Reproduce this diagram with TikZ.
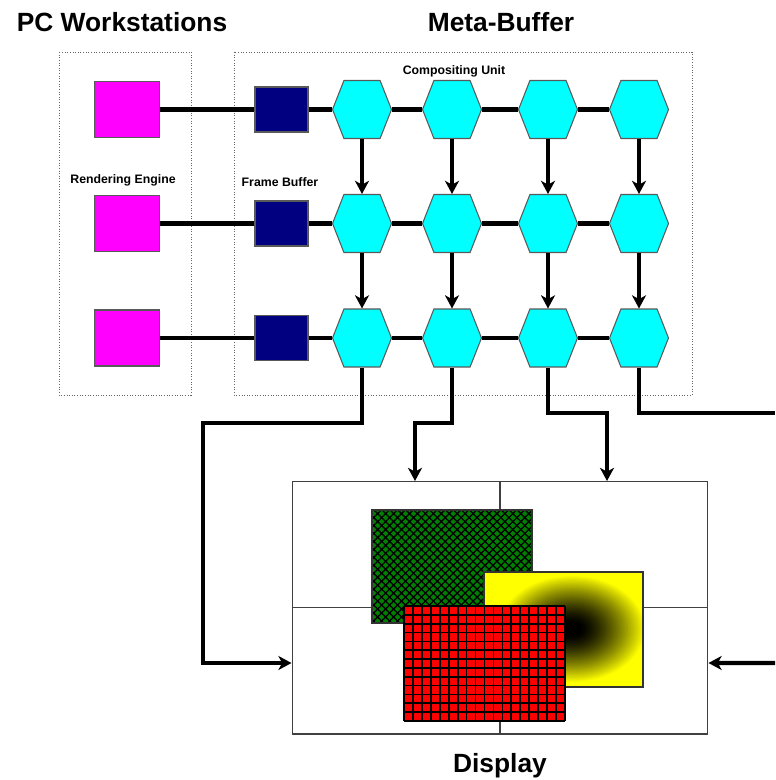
\documentclass[tikz,border=0pt]{standalone}
\usepackage{fontspec}
\setsansfont{Liberation Sans}
\usetikzlibrary{arrows.meta, calc, shapes.symbols, patterns.meta}

\begin{document}
\begin{tikzpicture}[
    x=0.02cm, y=-0.02cm,
    every node/.style={font=\sffamily\bfseries},
    heading/.style={font=\sffamily\bfseries\fontsize{15}{18}\selectfont},
    tag/.style={font=\sffamily\bfseries\fontsize{7}{8}\selectfont},
    engine/.style={draw=black!65, line width=0.6pt, fill=engcol, inner sep=0pt,
        minimum width=1.3cm, minimum height=1.12cm},
    fbuf/.style={draw=black!65, line width=0.6pt, fill=fbcol, inner sep=0pt,
        minimum width=1.06cm, minimum height=0.9cm},
    cunit/.style={signal, signal to=east and west, signal from=nowhere,
        signal pointer angle=137, draw=black!65, line width=0.6pt, fill=cucol,
        inner sep=0pt, minimum width=1.18cm, minimum height=1.16cm},
    screen/.style={draw=black!75, line width=0.6pt, inner sep=0pt,
        minimum width=8.32cm, minimum height=5.06cm},
    groupbox/.style={black!60, line width=0.5pt, densely dotted},
    link/.style={line width=2.3pt},
    thinlink/.style={line width=1.9pt},
    flow/.style={line width=2.3pt, -{Stealth[length=7.5pt, width=8pt, inset=2.2pt]}},
]

\definecolor{engcol}{RGB}{255,0,255}   % rendering engines
\definecolor{fbcol}{RGB}{0,0,128}      % frame buffers
\definecolor{cucol}{RGB}{0,255,255}    % compositing units
\definecolor{tilegreen}{RGB}{0,128,0}
\definecolor{tilered}{RGB}{255,0,0}
\definecolor{tileyellow}{RGB}{255,255,0}
\definecolor{spotblack}{RGB}{0,0,0}

\useasboundingbox (0,0) rectangle (775,780);
\fill[white] (0,0) rectangle (775,780);

% ---------------------------------------------------------------- headings
\node[heading] (tPC)   at (122,22)  {PC Workstations};
\node[heading] (tMeta) at (501,22)  {Meta-Buffer};
\node[heading] (tDisp) at (500,766) {Display};

% ---------------------------------------------------------------- groups
\draw[groupbox] (59,52) rectangle (191,395);
\draw[groupbox] (234,52) rectangle (692,395);

\node[tag] (lblRE) at (123,180) {Rendering Engine};
\node[tag] (lblFB) at (280,182) {Frame Buffer};
\node[tag] (lblCU) at (454,71)  {Compositing Unit};

% ---------------------------------------------------------------- rows
\foreach \r/\y/\lw in {1/109.5/link, 2/223.5/link, 3/338/thinlink} {
  \node[engine] (re\r) at (127,\y) {};
  \node[fbuf] (fb\r) at (281.5,\y) {};
  \foreach \c/\x in {1/362, 2/452, 3/548, 4/639}
    \node[cunit] (cu\r\c) at (\x,\y) {};
  \draw[\lw] (re\r.east) -- (fb\r.west)
             (fb\r.east) -- (cu\r1.west)
             (cu\r1.east) -- (cu\r2.west)
             (cu\r2.east) -- (cu\r3.west)
             (cu\r3.east) -- (cu\r4.west);
}

\foreach \c in {1,...,4} {
  \draw[flow] (cu1\c.south) -- (cu2\c.north);
  \draw[flow] (cu2\c.south) -- (cu3\c.north);
}

% ---------------------------------------------------------------- display
\node[screen] (disp) at (500,607.5) {};
\draw[black!75, line width=0.6pt] (disp.north) -- (disp.south)
                                  (disp.west) -- (disp.east);

% green tile, cross hatched
\fill[tilegreen] (372,510) rectangle (532,623);
\fill[pattern={Hatch[angle=45, distance=3.2pt, line width=0.75pt]}, pattern color=black]
    (372,510) rectangle (532,623);
\draw[black!80, line width=0.6pt] (372,510) rectangle (532,623);

% yellow tile, dark spot fading out (rgb mixing, not cmyk)
\fill[tileyellow] (484,572) rectangle (643,687);
\begin{scope}
  \clip (484,572) rectangle (643,687);
  \foreach \k in {0,...,46} {
    \pgfmathsetmacro{\t}{1-\k/50}
    \pgfmathsetmacro{\p}{100*max(0,(\t-0.12)/0.88)^1.4}
    \fill[tileyellow!\p!spotblack] (572,629) ellipse [x radius=\t*1.48cm, y radius=\t*1.08cm];
  }
\end{scope}
\draw[black!80, line width=0.6pt] (484,572) rectangle (643,687);

% red tile, square grid
\fill[tilered] (404,606) rectangle (565,721);
\foreach \i in {0,...,18}
  \draw[line width=1pt] (404+\i*8.944,606) -- ++(0,115);
\foreach \j in {0,...,13}
  \draw[line width=1pt] (404,606+\j*8.846) -- ++(161,0);

% ---------------------------------------------------------------- outputs
\coordinate (inL)    at ($(disp.west)+(0,55.5)$);
\coordinate (inR)    at ($(disp.east)+(0,55.5)$);
\coordinate (inT1)   at (415,481);
\coordinate (inT2)   at (607,481);
\coordinate (bendL)  at (203,423);
\coordinate (exitR)  at (775,413);
\coordinate (entryR) at (775,663);

\draw[flow] (cu31.south) |- (bendL) |- (inL);
\draw[flow] (cu32.south) |- ($(inT1)+(0,-58)$) -- (inT1);
\draw[flow] (cu33.south) |- ($(inT2)+(0,-68)$) -- (inT2);
\draw[link] (cu34.south) |- (exitR);
\draw[flow] (entryR) -- (inR);

\end{tikzpicture}
\end{document}
